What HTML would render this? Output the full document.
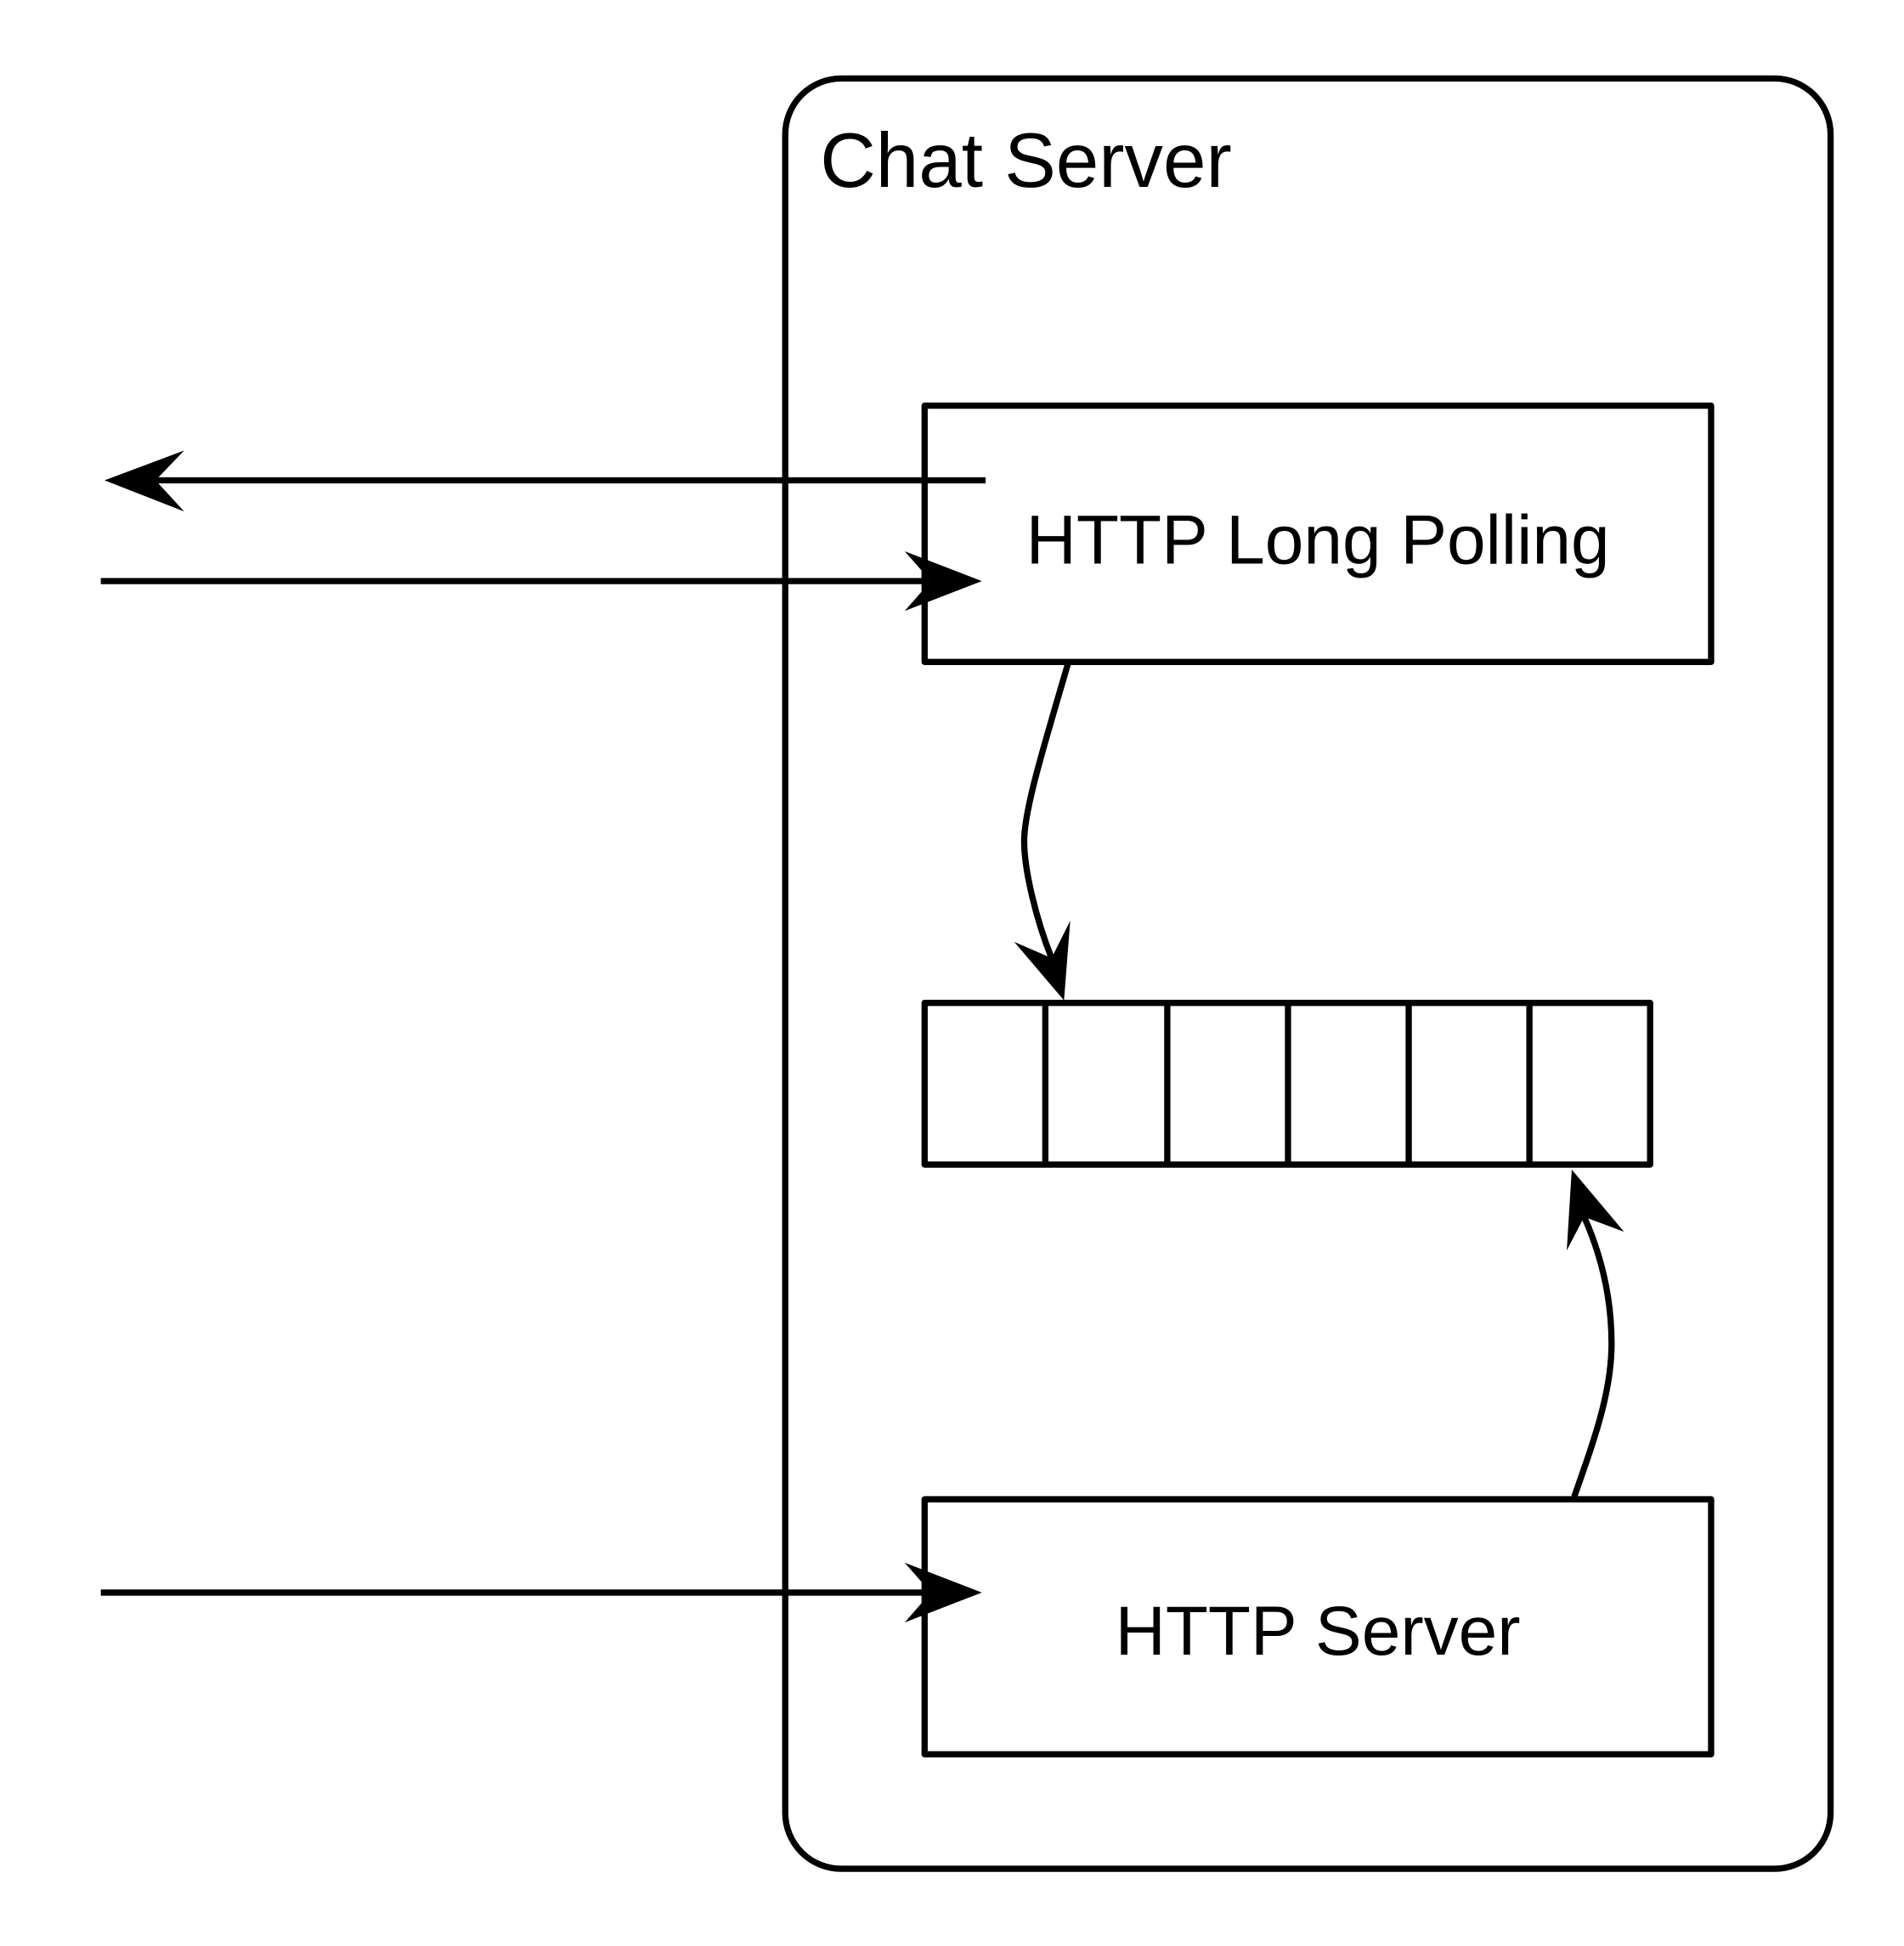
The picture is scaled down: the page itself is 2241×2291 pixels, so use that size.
<!DOCTYPE html>
<html><head><meta charset="utf-8"><style>
html,body{margin:0;padding:0;background:#fff;}
svg{display:block;}
text{font-family:"Liberation Sans",Arial,sans-serif;fill:#000;}
</style></head><body>
<svg width="2241" height="2291" viewBox="0 0 1530 1564" xmlns="http://www.w3.org/2000/svg">
<g fill="none" stroke="#000" stroke-width="5" stroke-linejoin="round">
<rect x="631" y="63" width="840" height="1439" rx="45" ry="45"/>
<rect x="743" y="326" width="632" height="206"/>
<rect x="743" y="806" width="583" height="130"/>
<line x1="840" y1="806" x2="840" y2="936"/>
<line x1="938" y1="806" x2="938" y2="936"/>
<line x1="1035" y1="806" x2="1035" y2="936"/>
<line x1="1132" y1="806" x2="1132" y2="936"/>
<line x1="1229" y1="806" x2="1229" y2="936"/>
<rect x="743" y="1205" width="632" height="205"/>
<line x1="792" y1="386" x2="120" y2="386"/>
<line x1="81" y1="467" x2="750" y2="467"/>
<line x1="81" y1="1280" x2="750" y2="1280"/>
<path d="M858,534 C840,596 823,650 823,676 C823,700 833,740 845,770"/>
<path d="M1265,1203 C1280,1160 1295,1120 1295,1080 C1295,1040 1285,1005 1273,978"/>
</g>
<g fill="#000">
<polygon points="84,386 148,362 125,386 148,411"/>
<polygon points="789,467 727,443 748,467 727,491"/>
<polygon points="789,1280 727,1256 748,1280 727,1304"/>
<polygon points="855,804 815,757 845,770 860,740"/>
<polygon points="1263,940 1305,990 1273,978 1259,1005"/>
</g>
<text x="659" y="150" font-size="62">Chat Server</text>
<text x="1059" y="453" font-size="56" text-anchor="middle">HTTP Long Polling</text>
<text x="1059" y="1330" font-size="56" text-anchor="middle">HTTP Server</text>
</svg>
</body></html>
